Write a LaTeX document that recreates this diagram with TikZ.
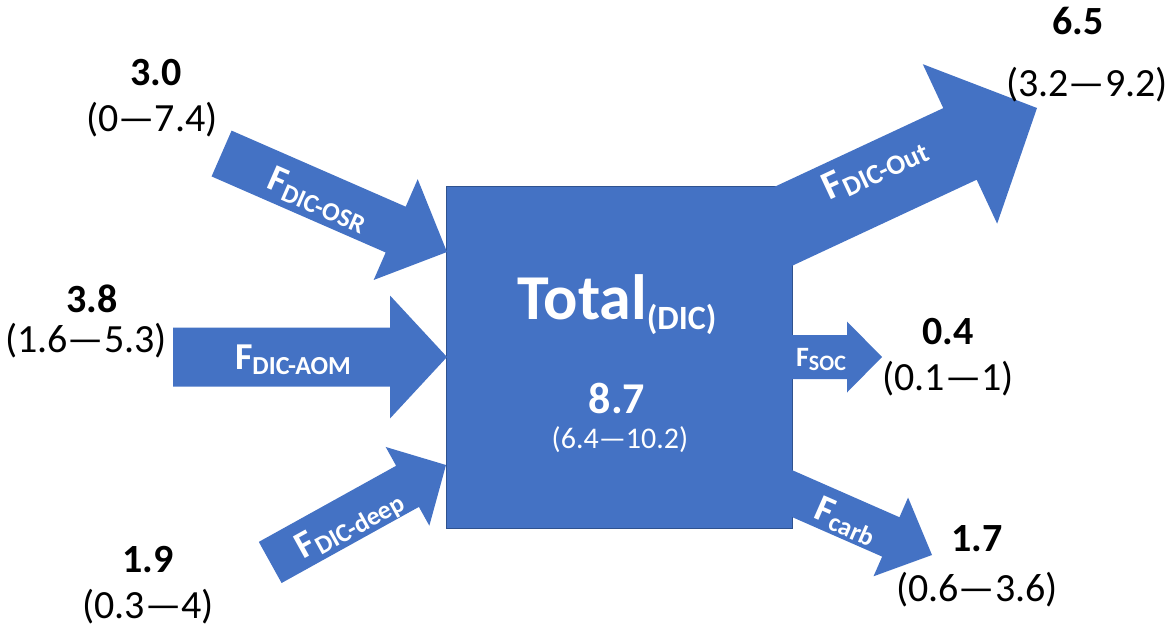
\documentclass[tikz,border=0pt]{standalone}
\usepackage{fontspec}
\setmainfont{Carlito}
\definecolor{flowblue}{HTML}{4472C4}
\definecolor{flowedge}{HTML}{2F528F}
% tip x, tip y, angle, total length, shaft width, head width, head length
\newcommand{\blockarrow}[7]{%
  \fill[flowblue,shift={(#1,#2)},rotate=#3]
    (0,0) -- ({-#7},{#6/2}) -- ({-#7},{#5/2}) -- ({-#4},{#5/2})
    -- ({-#4},{-#5/2}) -- ({-#7},{-#5/2}) -- ({-#7},{-#6/2}) -- cycle;}
\newcommand{\flowlab}[4]{{\fontsize{#1}{#1}\selectfont F}\raisebox{-#4pt}{\fontsize{#2}{#2}\selectfont #3}}
\tikzset{
  val/.style={inner sep=0pt, font=\fontsize{40}{40}\selectfont\bfseries},
  rng/.style={inner sep=0pt, font=\fontsize{40}{40}\selectfont},
  flab/.style={inner sep=0pt, text=white, font=\bfseries},
}
\begin{document}
\begin{tikzpicture}[x=1pt,y=-1pt]
\useasboundingbox (0,0) rectangle (1171,629);
% central pool
\node[draw=flowedge, line width=1pt, fill=flowblue, minimum width=346pt, minimum height=342pt, inner sep=0pt] (box) at (619,357) {};
% outgoing arrows
\blockarrow{1037}{108}{25}{320}{79}{176}{85}
\blockarrow{882}{357}{0}{112}{44}{71}{35}
\blockarrow{932}{555}{-23.7}{180}{43}{86}{45}
% incoming arrows
\blockarrow{447}{252}{-23.6}{246}{50}{110}{56}
\blockarrow{447}{357}{0}{274}{59}{123}{57}
\blockarrow{446}{465}{29}{201}{47}{90}{44}
% arrow labels
\node[flab, rotate=-23.6] (lOSR) at (318,200) {\flowlab{38}{26}{DIC-OSR}{5}};
\node[flab] (lAOM) at (293,360) {\flowlab{38}{26}{DIC-AOM}{5}};
\node[flab, rotate=29] (ldeep) at (350,525) {\flowlab{38}{26}{DIC-deep}{5}};
\node[flab, rotate=25] (lOut) at (875,168) {\flowlab{40}{28}{DIC-Out}{5}};
\node[flab] (lSOC) at (821,359) {\flowlab{28}{22}{SOC}{4}};
\node[flab, rotate=-23.7] (lcarb) at (846,521) {\flowlab{38}{26}{carb}{5}};
% central text
\node[flab] (tot) at (617,305) {{\fontsize{64}{64}\selectfont Total}\raisebox{-10pt}{\fontsize{34}{34}\selectfont (DIC)}};
\node[flab, font=\fontsize{44}{44}\selectfont\bfseries] (totv) at (617,398) {8.7};
\node[inner sep=0pt, text=white, font=\fontsize{30}{30}\selectfont] (totr) at (620,440) {(6.4—10.2)};
% values
\node[val] (vOSR) at (156,73) {3.0};
\node[rng] (rOSR) at (152,120) {(0—7.4)};
\node[val] (vAOM) at (92,299) {3.8};
\node[rng] (rAOM) at (86,341) {(1.6—5.3)};
\node[val] (vdeep) at (148,560) {1.9};
\node[rng] (rdeep) at (148,607) {(0.3—4)};
\node[val] (vOut) at (1078,21) {6.5};
\node[rng] (rOut) at (1087,85) {(3.2—9.2)};
\node[val] (vSOC) at (948,332) {0.4};
\node[rng] (rSOC) at (948,379) {(0.1—1)};
\node[val] (vcarb) at (977,539) {1.7};
\node[rng] (rcarb) at (977,590) {(0.6—3.6)};
\end{tikzpicture}
\end{document}
